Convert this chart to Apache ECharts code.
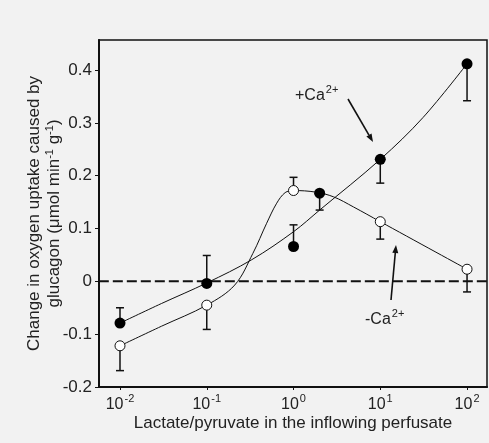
<!DOCTYPE html>
<html>
<head>
<meta charset="utf-8">
<script src="https://cdn.jsdelivr.net/npm/echarts@6/dist/echarts.min.js"></script>
<style>
html,body{margin:0;padding:0;background:#f2f2f2;}
#chart{width:489px;height:443px;}
</style>
</head>
<body>
<div id="chart"></div>
<script>
// ---- data (x in lactate/pyruvate ratio units) ----
var ratios = [0.01, 0.1, 1, 2, 10, 100];
var plusCaX = [0.01, 0.1, 1, 2, 10, 100];
var plusCaY = [-0.079, -0.004, 0.066, 0.167, 0.231, 0.412];
var plusCaErrEnd = [-0.050, 0.049, 0.107, 0.135, 0.186, 0.342];
var minusCaX = [0.01, 0.1, 1, 10, 100];
var minusCaY = [-0.122, -0.045, 0.172, 0.113, 0.023];
var minusCaErrEnd = [-0.169, -0.091, 0.197, 0.080, -0.020];
// fitted curves as drawn in the figure
var plusCurveX = [0.01, 0.03, 0.1, 0.33, 1, 2, 10, 31, 100];
var plusCurveY = [-0.079, -0.042, -0.003, 0.041, 0.094, 0.135, 0.231, 0.310, 0.412];
var minusCurveX = [0.01, 0.03, 0.1, 0.21, 0.34, 0.49, 0.64, 0.8, 1, 1.8, 2.9, 4.9, 10, 100];
var minusCurveY = [-0.122, -0.085, -0.045, -0.007, 0.053, 0.110, 0.148, 0.168, 0.172, 0.169, 0.160, 0.141, 0.113, 0.023];
var zeroLineX = [0.0057, 170];
var zeroLineY = [0, 0];
var xTickRatios = [0.01, 0.1, 1, 10, 100];
var yTicks = [-0.2, -0.1, 0, 0.1, 0.2, 0.3, 0.4];

var FONT = '"Liberation Sans", Arial, Helvetica, sans-serif';
function lg(v){ return Math.log10(v); }
function pairs(xs, ys){ return xs.map(function(x,i){ return [lg(x), ys[i]]; }); }
function triples(xs, ys, es){ return xs.map(function(x,i){ return [lg(x), ys[i], es[i]]; }); }

function errRender(params, api){
  var x = api.value(0), y = api.value(1), e = api.value(2);
  var p = api.coord([x, y]), q = api.coord([x, e]);
  var w = 4;
  return {type:'group', children:[
    {type:'line', shape:{x1:p[0], y1:p[1], x2:q[0], y2:q[1]}, style:{stroke:'#111', lineWidth:1.5}},
    {type:'line', shape:{x1:q[0]-w, y1:q[1], x2:q[0]+w, y2:q[1]}, style:{stroke:'#111', lineWidth:1.5}}
  ]};
}

function arrow(x1,y1,x2,y2){
  var ang = Math.atan2(y2-y1, x2-x1), L = 8, W = 3;
  var bx = x2 - L*Math.cos(ang), by = y2 - L*Math.sin(ang);
  var nx = -Math.sin(ang)*W, ny = Math.cos(ang)*W;
  return [
    {type:'line', shape:{x1:x1,y1:y1,x2:bx,y2:by}, style:{stroke:'#111', lineWidth:1.6}, z:100},
    {type:'polygon', shape:{points:[[x2,y2],[bx+nx,by+ny],[bx-nx,by-ny]]}, style:{fill:'#111'}, z:100}
  ];
}

var supRich = {
  b: {fontSize:16, fontFamily:FONT, color:'#222', lineHeight:20, verticalAlign:'bottom'},
  sup: {fontSize:11, fontFamily:FONT, color:'#222', lineHeight:20, verticalAlign:'top', padding:[0,0,0,1]}
};

var chart = echarts.init(document.getElementById('chart'));
var option = {
  backgroundColor: '#f2f2f2',
  animation: false,
  grid: {left:99, top:40, right:2, bottom:56, show:true, borderColor:'#111', borderWidth:1.5, backgroundColor:'transparent'},
  xAxis: {
    type:'value', min:-2.242, max:2.23,
    name:'Lactate/pyruvate in the inflowing perfusate',
    nameLocation:'middle', nameGap:28, nameMoveOverlap:false,
    nameTextStyle:{fontSize:17, fontFamily:FONT, color:'#222'},
    axisLine:{show:true, onZero:false, lineStyle:{color:'#111', width:2}},
    axisTick:{show:true, length:3, customValues: xTickRatios.map(lg), lineStyle:{color:'#111'}},
    axisLabel:{
      customValues: xTickRatios.map(lg), margin:6,
      formatter:function(v){ return '{b|10}{sup|' + Math.round(v) + '}'; },
      rich: {
        b:{fontSize:16, fontFamily:FONT, color:'#222', lineHeight:20, verticalAlign:'bottom'},
        sup:{fontSize:11, fontFamily:FONT, color:'#222', lineHeight:20, verticalAlign:'top', padding:[0,0,0,1]}
      }
    },
    splitLine:{show:false}
  },
  yAxis: {
    type:'value', min:-0.2, max:0.457,
    name:'Change in oxygen uptake caused by\nglucagon (μmol min{sup|-1} g{sup|-1})',
    nameLocation:'middle', nameRotate:90, nameGap:35, nameMoveOverlap:false,
    nameTextStyle:{fontSize:17, fontFamily:FONT, color:'#222', lineHeight:20,
      rich:{sup:{fontSize:11, fontFamily:FONT, color:'#222', verticalAlign:'top', lineHeight:20}}},
    axisLine:{show:true, onZero:false, lineStyle:{color:'#111', width:2}},
    axisTick:{show:true, length:4, customValues: yTicks, lineStyle:{color:'#111'}},
    axisLabel:{customValues: yTicks, margin:7, fontSize:17, fontFamily:FONT, color:'#222',
      formatter:function(v){ return Math.abs(v) < 1e-9 ? '0' : String(Math.round(v*10)/10); }},
    splitLine:{show:false}
  },
  series: [
    {type:'line', data: pairs(zeroLineX, zeroLineY), showSymbol:false, silent:true,
      lineStyle:{color:'#111', width:2, type:[10,4]}, z:1},
    {type:'line', data: pairs(plusCurveX, plusCurveY), smooth:0.35, showSymbol:false,
      lineStyle:{color:'#111', width:1}, z:2},
    {type:'line', data: pairs(minusCurveX, minusCurveY), smooth:0.35, showSymbol:false,
      lineStyle:{color:'#111', width:1}, z:2},
    {type:'custom', renderItem: errRender, data: triples(plusCaX, plusCaY, plusCaErrEnd), z:3},
    {type:'custom', renderItem: errRender, data: triples(minusCaX, minusCaY, minusCaErrEnd), z:3},
    {type:'scatter', data: pairs(minusCaX, minusCaY), symbol:'circle', symbolSize:10,
      itemStyle:{color:'#ffffff', borderColor:'#111', borderWidth:1, opacity:1}, z:5},
    {type:'scatter', data: pairs(plusCaX, plusCaY), symbol:'circle', symbolSize:11,
      itemStyle:{color:'#000', borderColor:'#000', borderWidth:0, opacity:1}, z:6}
  ],
  graphic: [
    {type:'text', left:295, top:84, z:100,
      style:{text:'{b|+Ca}{sup|2+}', rich:supRich, fill:'#222'}},
    {type:'text', left:365, top:308, z:100,
      style:{text:'{b|-Ca}{sup|2+}', rich:supRich, fill:'#222'}}
  ].concat(arrow(348,99,373,142)).concat(arrow(391,300,396,245))
};
chart.setOption(option);
</script>
</body>
</html>
